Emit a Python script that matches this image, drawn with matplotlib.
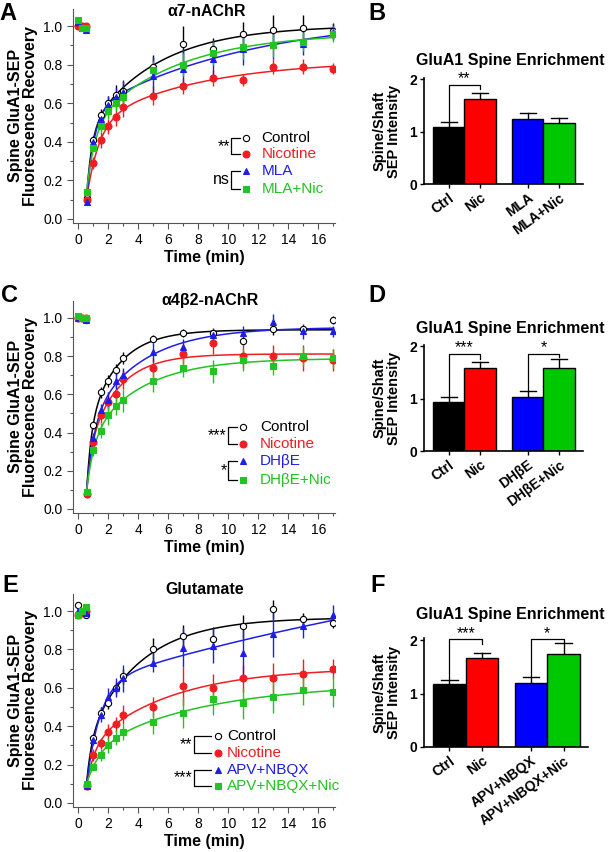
import numpy as np
import matplotlib
matplotlib.use("Agg")
import matplotlib.pyplot as plt
from matplotlib.ticker import MultipleLocator

plt.rcParams['font.family'] = ['Liberation Sans', 'DejaVu Sans']

# ---- recovery curves (time in min, pre-bleach then post-bleach) ----
time = [0, 0.25, 0.5, 0.55, 1, 1.5, 2, 2.5, 3, 5, 7, 9, 11, 13, 15, 17]
n_pre = 3

a7_ctrl = [1.00, 1.00, 0.99, 0.11, 0.41, 0.54, 0.60, 0.645, 0.665, 0.79, 0.91, 0.88, 0.96, 0.98, 0.99, 0.975]
a7_ctrl_err = [0.01, 0.01, 0.01, 0.01, 0.02, 0.03, 0.04, 0.05, 0.05, 0.06, 0.09, 0.06, 0.06, 0.08, 0.07, 0.04]
a7_nic = [1.00, 1.00, 1.00, 0.10, 0.29, 0.41, 0.48, 0.53, 0.58, 0.64, 0.69, 0.73, 0.72, 0.79, 0.79, 0.78]
a7_nic_err = [0.01, 0.01, 0.01, 0.01, 0.03, 0.04, 0.04, 0.05, 0.05, 0.05, 0.04, 0.04, 0.03, 0.04, 0.04, 0.03]
a7_mla = [1.02, 0.99, 0.98, 0.09, 0.40, 0.52, 0.59, 0.63, 0.66, 0.74, 0.78, 0.83, 0.88, 0.90, 0.91, 0.97]
a7_mla_err = [0.01, 0.01, 0.01, 0.01, 0.03, 0.04, 0.05, 0.05, 0.06, 0.10, 0.10, 0.10, 0.08, 0.07, 0.06, 0.04]
a7_mlanic = [1.03, 0.99, 0.99, 0.14, 0.37, 0.48, 0.56, 0.60, 0.63, 0.77, 0.80, 0.86, 0.89, 0.90, 0.92, 0.96]
a7_mlanic_err = [0.01, 0.01, 0.01, 0.01, 0.02, 0.03, 0.04, 0.04, 0.04, 0.05, 0.06, 0.06, 0.06, 0.06, 0.05, 0.04]

b2_ctrl = [1.00, 1.00, 0.99, 0.08, 0.44, 0.61, 0.67, 0.73, 0.79, 0.89, 0.92, 0.92, 0.88, 0.94, 0.94, 0.99]
b2_ctrl_err = [0.01, 0.01, 0.01, 0.01, 0.02, 0.03, 0.03, 0.03, 0.03, 0.02, 0.02, 0.02, 0.02, 0.03, 0.02, 0.02]
b2_nic = [1.00, 1.00, 1.00, 0.08, 0.35, 0.49, 0.56, 0.60, 0.68, 0.74, 0.81, 0.87, 0.80, 0.80, 0.79, 0.78]
b2_nic_err = [0.01, 0.01, 0.01, 0.01, 0.03, 0.04, 0.05, 0.05, 0.05, 0.05, 0.05, 0.06, 0.06, 0.06, 0.07, 0.06]
b2_dhbe = [1.00, 1.00, 0.99, 0.09, 0.37, 0.52, 0.57, 0.67, 0.70, 0.82, 0.85, 0.91, 0.92, 0.98, 0.93, 0.93]
b2_dhbe_err = [0.01, 0.01, 0.01, 0.01, 0.03, 0.03, 0.04, 0.04, 0.04, 0.05, 0.04, 0.04, 0.04, 0.04, 0.04, 0.03]
b2_dhbenic = [1.01, 1.00, 1.00, 0.09, 0.31, 0.41, 0.49, 0.54, 0.57, 0.67, 0.74, 0.72, 0.78, 0.75, 0.80, 0.79]
b2_dhbenic_err = [0.01, 0.01, 0.01, 0.01, 0.03, 0.04, 0.05, 0.05, 0.06, 0.06, 0.05, 0.06, 0.06, 0.05, 0.05, 0.05]

glu_ctrl = [1.03, 1.00, 0.98, 0.10, 0.34, 0.47, 0.52, 0.60, 0.66, 0.80, 0.87, 0.855, 0.92, 1.01, 0.96, 0.94]
glu_ctrl_err = [0.01, 0.01, 0.01, 0.01, 0.02, 0.03, 0.03, 0.03, 0.04, 0.06, 0.06, 0.06, 0.06, 0.05, 0.03, 0.03]
glu_nic = [0.98, 0.99, 1.00, 0.09, 0.25, 0.31, 0.37, 0.41, 0.46, 0.50, 0.61, 0.60, 0.65, 0.65, 0.67, 0.70]
glu_nic_err = [0.01, 0.01, 0.01, 0.01, 0.03, 0.03, 0.04, 0.04, 0.05, 0.05, 0.10, 0.07, 0.07, 0.08, 0.08, 0.05]
glu_apv = [1.00, 1.00, 0.99, 0.09, 0.33, 0.46, 0.55, 0.60, 0.65, 0.73, 0.81, 0.82, 0.78, 0.88, 0.92, 0.98]
glu_apv_err = [0.01, 0.01, 0.01, 0.01, 0.03, 0.04, 0.05, 0.05, 0.07, 0.05, 0.10, 0.09, 0.12, 0.12, 0.06, 0.05]
glu_apvnic = [0.98, 1.00, 1.02, 0.10, 0.19, 0.25, 0.30, 0.34, 0.37, 0.42, 0.47, 0.54, 0.52, 0.55, 0.59, 0.58]
glu_apvnic_err = [0.01, 0.01, 0.01, 0.01, 0.02, 0.03, 0.04, 0.04, 0.04, 0.06, 0.08, 0.08, 0.08, 0.08, 0.08, 0.08]

# ---- spine enrichment bars ----
bar_a7_labels = ['Ctrl', 'Nic', 'MLA', 'MLA+Nic']
bar_a7 = [1.09, 1.62, 1.24, 1.16]
bar_a7_err = [0.09, 0.11, 0.11, 0.10]
bar_b2_labels = ['Ctrl', 'Nic', 'DH\u03b2E', 'DH\u03b2E+Nic']
bar_b2 = [0.93, 1.58, 1.03, 1.58]
bar_b2_err = [0.10, 0.12, 0.11, 0.17]
bar_glu_labels = ['Ctrl', 'Nic', 'APV+NBQX', 'APV+NBQX+Nic']
bar_glu = [1.18, 1.66, 1.20, 1.74]
bar_glu_err = [0.07, 0.10, 0.11, 0.20]

RED = '#f01e23'
BLUE = '#1e1ee6'
GREEN = '#22c322'
BAR_COLORS = ['black', '#ff0000', '#0000ff', '#00c800']
STYLES = [dict(color='black', marker='o', mfc='white', ms=4.5),
          dict(color=RED, marker='o', mfc=RED, ms=5),
          dict(color=BLUE, marker='^', mfc=BLUE, ms=5),
          dict(color=GREEN, marker='s', mfc=GREEN, ms=5)]


def fit_recovery(t, y):
    ### double exponential recovery, grid over the time constants
    t = np.asarray(t, float)
    y = np.asarray(y, float)
    t0 = t[0]
    best = None
    for tau1 in np.linspace(0.2, 3.0, 57):
        for tau2 in np.linspace(1.0, 40.0, 79):
            if tau2 <= tau1:
                continue
            A = np.column_stack([np.ones_like(t), np.exp(-(t - t0) / tau1), np.exp(-(t - t0) / tau2)])
            c = np.linalg.lstsq(A, y, rcond=None)[0]
            sse = np.sum((A @ c - y) ** 2)
            if best is None or sse < best[0]:
                best = (sse, tau1, tau2, c)
    _, tau1, tau2, c = best
    tt = np.linspace(t0, 17, 300)
    return tt, c[0] + c[1] * np.exp(-(tt - t0) / tau1) + c[2] * np.exp(-(tt - t0) / tau2)


def recovery_panel(rect, series, errs, names, key_y, key_x, stars):
    ax = fig.add_axes(rect)
    t = np.array(time)
    for i in range(4):
        st = STYLES[i]
        tt, yy = fit_recovery(t[n_pre:], np.array(series[i])[n_pre:])
        ax.plot(tt, yy, color=st['color'], lw=1.1, zorder=2)
    for i in range(4):
        st = STYLES[i]
        ax.errorbar(t, series[i], yerr=errs[i], fmt='none', ecolor=st['color'], elinewidth=1, capsize=0, zorder=3)
        ax.plot(t, series[i], ls='none', marker=st['marker'], color=st['color'], mfc=st['mfc'],
                mec=st['color'], ms=st['ms'], mew=0.8, zorder=4)
    ax.set_xlim(-0.35, 17.1)
    ax.set_ylim(-0.02, 1.09)
    ax.xaxis.set_major_locator(MultipleLocator(2))
    ax.xaxis.set_minor_locator(MultipleLocator(1))
    ax.yaxis.set_major_locator(MultipleLocator(0.2))
    ax.yaxis.set_minor_locator(MultipleLocator(0.1))
    ax.yaxis.set_major_formatter(matplotlib.ticker.FormatStrFormatter('%.1f'))
    for s in ['top', 'right']:
        ax.spines[s].set_visible(False)
    ax.spines['left'].set_color('#555555')
    ax.spines['bottom'].set_color('#555555')
    ax.tick_params(which='major', length=4, width=0.8, labelsize=10, colors='#555555', labelcolor='black')
    ax.tick_params(which='minor', length=2, width=0.8, colors='#555555')
    ax.set_xlabel('Time (min)', fontsize=11.5, fontweight='bold', labelpad=2)
    ax.set_ylabel('Spine GluA1-SEP\nFluorescence Recovery', fontsize=11.5, fontweight='bold', labelpad=4,
                  linespacing=1.0)
    # key with significance brackets
    xm, xt, xb = key_x
    txt_colors = ['black', RED, BLUE, GREEN]
    for i in range(4):
        st = STYLES[i]
        ax.plot([xm], [key_y[i]], ls='none', marker=st['marker'], color=st['color'], mfc=st['mfc'],
                mec=st['color'], ms=st['ms'], mew=0.8, clip_on=False)
        ax.text(xt, key_y[i], names[i], color=txt_colors[i], fontsize=11, va='center', ha='left')
    for k, (a, b) in enumerate([(0, 1), (2, 3)]):
        ax.plot([xm - 0.45, xb, xb, xm - 0.45], [key_y[a], key_y[a], key_y[b], key_y[b]],
                color='black', lw=0.9)
        ax.text(xb - 0.1, (key_y[a] + key_y[b]) / 2, stars[k], fontsize=11.5, ha='right', va='center')
    return ax


def bar_panel(rect, vals, errs, labels, sig, ylim_top):
    ax = fig.add_axes(rect)
    pos = np.array([0, 1, 2.5, 3.5])
    ax.bar(pos, vals, width=1.0, color=BAR_COLORS, edgecolor='black', linewidth=1.0, zorder=2)
    for p, v, e in zip(pos, vals, errs):
        ax.plot([p, p], [v, v + e], color='black', lw=1.0, zorder=1)
        ax.plot([p - 0.25, p + 0.25], [v + e, v + e], color='black', lw=1.0, zorder=1)
    for (i, j, ytop, yright, label) in sig:
        yl = vals[i] + errs[i]
        ax.plot([pos[i], pos[i], pos[j], pos[j]], [yl, ytop, ytop, yright], color='black', lw=0.9,
                clip_on=False)
        ax.text((pos[i] + pos[j]) / 2, ytop - 0.03, label, ha='center', va='bottom', fontsize=11.5,
                clip_on=False)
    ax.set_xlim(-0.78, 4.25)
    ax.set_ylim(0, ylim_top)
    ax.set_yticks([0, 1, 2])
    ax.set_xticks(pos)
    ax.set_xticklabels(labels, rotation=36, ha='right', rotation_mode='anchor', fontweight='bold', fontsize=10.5)
    for tl in ax.get_yticklabels():
        tl.set_fontweight('bold')
    for s in ['top', 'right']:
        ax.spines[s].set_visible(False)
    ax.spines['left'].set_linewidth(1.2)
    ax.spines['bottom'].set_linewidth(1.2)
    ax.tick_params(axis='both', length=3, width=1.0, labelsize=10, pad=2)
    ax.set_ylabel('Spine/Shaft\nSEP Intensity', fontsize=10.5, fontweight='bold', linespacing=1.0, labelpad=6)
    return ax


fig = plt.figure(figsize=(6.1, 8.52), dpi=100)
W, H = 610.0, 852.0

names_a7 = ['Control', 'Nicotine', 'MLA', 'MLA+Nic']
names_b2 = ['Control', 'Nicotine', 'DH\u03b2E', 'DH\u03b2E+Nic']
names_glu = ['Control', 'Nicotine', 'APV+NBQX', 'APV+NBQX+Nic']

recovery_panel([73 / W, 1 - 222.8 / H, 262 / W, 214 / H],
               [a7_ctrl, a7_nic, a7_mla, a7_mlanic],
               [a7_ctrl_err, a7_nic_err, a7_mla_err, a7_mlanic_err],
               names_a7, [0.42, 0.335, 0.247, 0.157], (11.2, 12.2, 10.2), ['**', 'ns'])
recovery_panel([73 / W, 1 - 512.8 / H, 262 / W, 212 / H],
               [b2_ctrl, b2_nic, b2_dhbe, b2_dhbenic],
               [b2_ctrl_err, b2_nic_err, b2_dhbe_err, b2_dhbenic_err],
               names_b2, [0.43, 0.34, 0.25, 0.15], (11.0, 12.1, 10.0), ['***', '*'])
recovery_panel([73 / W, 1 - 806.8 / H, 262 / W, 213 / H],
               [glu_ctrl, glu_nic, glu_apv, glu_apvnic],
               [glu_ctrl_err, glu_nic_err, glu_apv_err, glu_apvnic_err],
               names_glu, [0.35, 0.26, 0.17, 0.09], (9.3, 9.9, 7.7), ['**', '***'])

bar_panel([424 / W, 1 - 184 / H, 159 / W, 106 / H], bar_a7, bar_a7_err, bar_a7_labels,
          [(0, 1, 1.89, 1.81, '**')], 2.02)
bar_panel([424 / W, 1 - 451 / H, 159 / W, 106 / H], bar_b2, bar_b2_err, bar_b2_labels,
          [(0, 1, 1.85, 1.75, '***'), (2, 3, 1.85, 1.80, '*')], 2.02)
bar_panel([424 / W, 1 - 747 / H, 164 / W, 109 / H], bar_glu, bar_glu_err, bar_glu_labels,
          [(0, 1, 2.02, 1.92, '***'), (2, 3, 2.02, 1.97, '*')], 2.04)

# panel titles
for title, x, y in [('\u03b17-nAChR', 207, 12), ('\u03b14\u03b22-nAChR', 210, 300), ('Glutamate', 205, 589),
                    ('GluA1 Spine Enrichment', 510, 61), ('GluA1 Spine Enrichment', 510, 329),
                    ('GluA1 Spine Enrichment', 510, 615)]:
    fig.text(x / W, 1 - y / H, title, fontsize=11.5, fontweight='bold', ha='center', va='center')

for letter, x, y in [('A', 8, 13), ('B', 377, 13), ('C', 9, 296), ('D', 377, 296), ('E', 10, 585), ('F', 378, 585)]:
    fig.text(x / W, 1 - y / H, letter, fontsize=17, fontweight='bold', ha='center', va='center')

fig.savefig('out.png', dpi=100)
